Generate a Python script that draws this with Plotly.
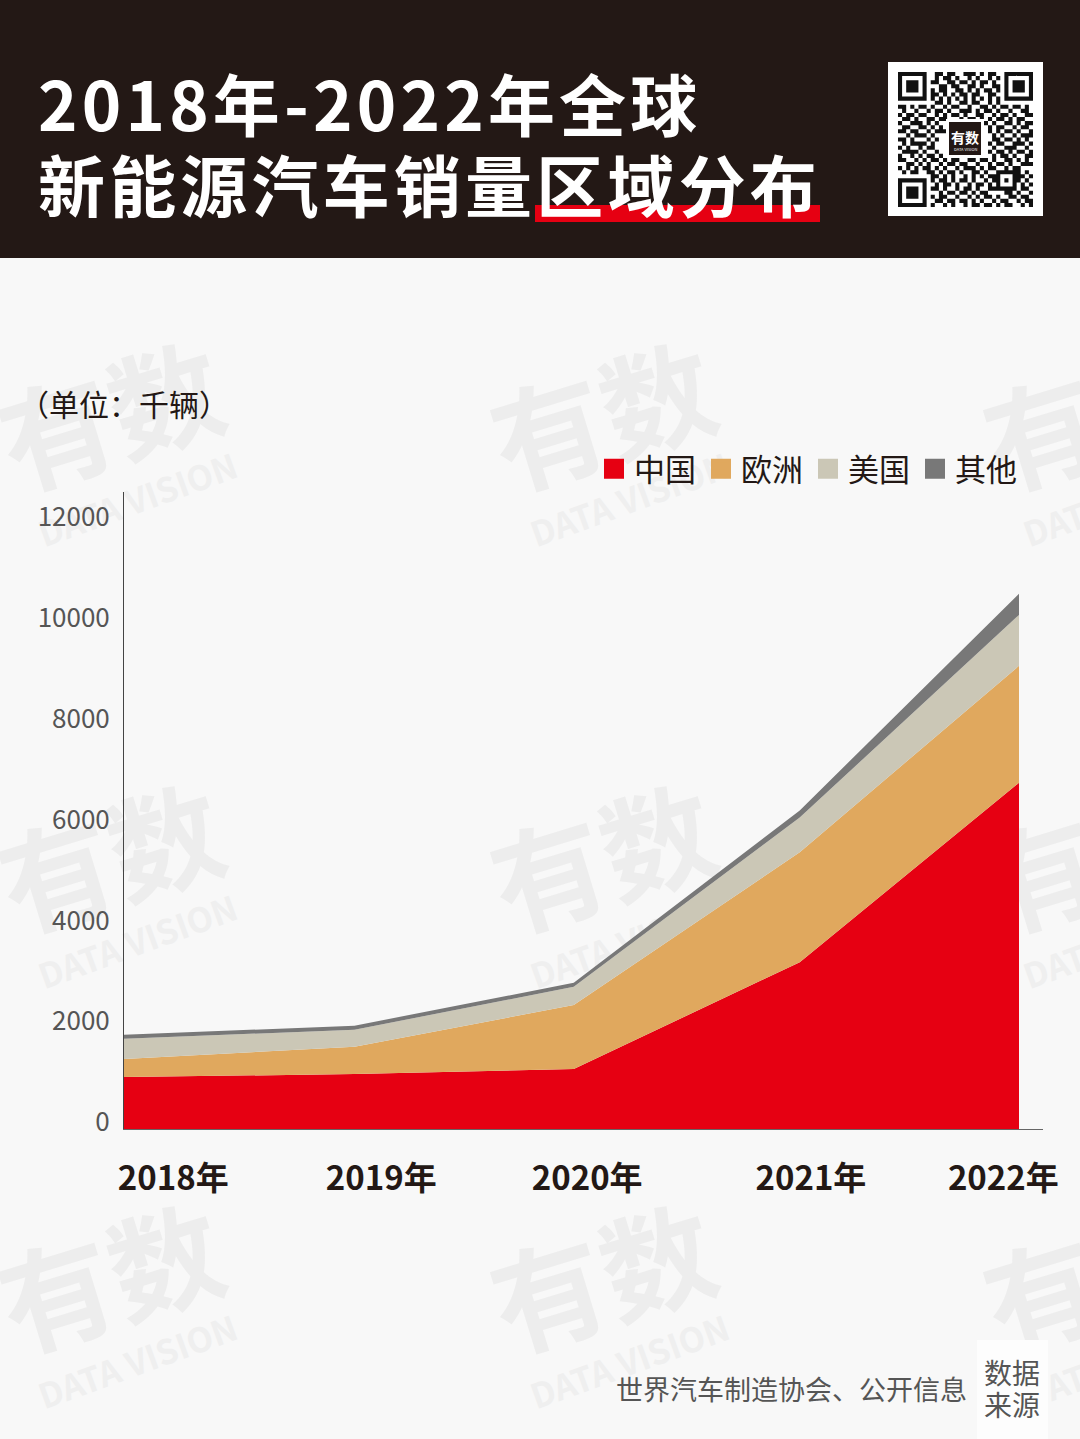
import plotly.graph_objects as go

# Data (thousand vehicles)
years = ['2018年', '2019年', '2020年', '2021年', '2022年']
x_vals = [2018, 2019.03, 2020.01, 2021.02, 2022]
x_tick_vals = [2018.22, 2019.15, 2020.07, 2021.07, 2021.93]
china = [1030, 1090, 1190, 3310, 6870]
europe = [360, 540, 1270, 2180, 2320]
usa = [400, 340, 360, 690, 1010]
other = [80, 80, 80, 140, 420]
y_ticks = [0, 2000, 4000, 6000, 8000, 10000, 12000]

series = [('中国', china, '#E60012'), ('欧洲', europe, '#E0A85E'),
          ('美国', usa, '#CBC7B6'), ('其他', other, '#787878')]

# QR code, one string per module row
qr_rows = [
    '1111111' + '0011011001110101100' + '1111111',
    '1000001' + '0010110100101001010' + '1000001',
    '1011101' + '0110011011010110100' + '1011101',
    '1011101' + '0001101100110100110' + '1011101',
    '1011101' + '0101100110101011010' + '1011101',
    '1000001' + '0110101011011001100' + '1000001',
    '1111111' + '0101010101010101010' + '1111111',
    '000000000110100110110010100000000',
    '110101101001011001001101011011010',
    '010010010110100111010110100100110',
    '101101100101011010011001011010011',
    '011010011011000101101010110101100',
    '100111010100110110000101001101011',
    '011001101010101001111010110010110',
    '110110010111000000000010101101001',
    '001011101000000000000001010010111',
    '110100010100000000000001101101010',
    '010111101000000000000010110011101',
    '101001011000000000000001001110010',
    '011110100100000000000010110101101',
    '100101011010000000000001011010011',
    '110010101101011001101101001101010',
    '001101010010110110010010110100111',
    '101010110101001011101011001011000',
    '010110011010110100110100' + '11111' + '1010',
    '000000001101010010101011' + '10001' + '1101',
    '1111111' + '0' + '1011010110100101' + '10101' + '1010',
    '1000001' + '0' + '0101101001011010' + '10001' + '0101',
    '1011101' + '0' + '1101001011010011' + '11111' + '0110',
    '1011101' + '0' + '0010110110101100' + '00110' + '1001',
    '1011101' + '0' + '1011001001010110' + '10011' + '0110',
    '1000001' + '0' + '0110110110101001' + '01100' + '1011',
    '1111111' + '0' + '1001010010110110' + '10110' + '0101',
]

W, H = 1080, 1439
FONT = 'Noto Sans CJK SC'
HAIR = '\u200a'


def fx(px):
    return px / W


def fy(py):
    return 1 - py / H


def spaced(text):
    return HAIR.join(text)


def rect(x0, y0, x1, y1, color):
    return dict(type='rect', xref='paper', yref='paper', layer='below',
                x0=fx(x0), x1=fx(x1), y0=fy(y1), y1=fy(y0),
                fillcolor=color, line_width=0)


def label_shape(cx, cy, text, size, color, angle, weight='bold'):
    return dict(type='rect', xref='paper', yref='paper', layer='below',
                x0=fx(cx - 1), x1=fx(cx + 1), y0=fy(cy + 1), y1=fy(cy - 1),
                fillcolor='rgba(0,0,0,0)', line_width=0,
                label=dict(text=text, textangle=angle, textposition='middle center',
                           font=dict(family=FONT, size=size, color=color, weight=weight)))


def text(px, py, s, size, color='#231815', anchor='center', bold=False):
    if bold:
        weight = 'bold'
    else:
        weight = 'normal'
    return dict(xref='paper', yref='paper', x=fx(px), y=fy(py), text=s,
                showarrow=False, xanchor=anchor, yanchor='middle',
                font=dict(family=FONT, size=size, color=color, weight=weight))


shapes = [rect(0, 0, W, 258, '#231815')]

# watermarks, hidden by the areas because they sit in the layer below
for row_y in [428, 870, 1290]:
    for col_x in [115, 607, 1100]:
        shapes.append(label_shape(col_x, row_y, '有数', 113, '#EDEDED', -17))
        shapes.append(label_shape(col_x + 24, row_y + 75, 'DATA VISION', 34, '#EFEFEF', -20))

shapes.append(rect(535, 205, 820, 222, '#E60012'))
shapes.append(rect(888, 62, 1043, 216, '#FFFFFF'))

# QR modules as one path
mod = 135 / 33
qr_path = ''
for r, row in enumerate(qr_rows):
    for c, v in enumerate(row):
        if v == '1':
            x0, x1 = fx(898 + c * mod), fx(898 + (c + 1) * mod)
            y0, y1 = fy(72 + r * mod), fy(72 + (r + 1) * mod)
            qr_path += f'M{x0:.5f},{y0:.5f}L{x1:.5f},{y0:.5f}L{x1:.5f},{y1:.5f}L{x0:.5f},{y1:.5f}Z'
shapes.append(dict(type='path', xref='paper', yref='paper', layer='below', path=qr_path,
                   fillcolor='#111111', line_width=0))
shapes.append(rect(946, 119, 984, 158, '#FFFFFF'))
shapes.append(rect(949, 122, 981, 155, '#231815'))
shapes.append(rect(977, 1340, 1048, 1439, '#FDFDFD'))

annotations = [
    text(36, 102, spaced('2018年-2022年全球'), 67, '#FFFFFF', 'left', True),
    text(36, 182, spaced('新能源汽车销量区域分布'), 67, '#FFFFFF', 'left', True),
    text(965, 137, '有数', 14, '#FFFFFF', bold=True),
    text(965, 149, 'DATA VISION', 4, '#FFFFFF'),
    text(124, 403, '（单位：千辆）', 30),
    text(969, 1388, '世界汽车制造协会、公开信息', 27, '#555555', 'right'),
    text(1012, 1372, '数据', 28, '#555555'),
    text(1012, 1404, '来源', 28, '#555555'),
]

fig = go.Figure()

for name, values, color in series:
    fig.add_trace(go.Scatter(
        x=x_vals,
        y=values,
        mode='none',
        stackgroup='one',
        fillcolor=color,
        name=name,
        showlegend=False
    ))

# legend entries only, so the swatches come out as small squares
for name, values, color in series:
    fig.add_trace(go.Scatter(
        x=[None],
        y=[None],
        mode='markers',
        name=name,
        marker=dict(symbol='square', size=16, color=color, line=dict(color=color, width=4))
    ))

fig.update_layout(
    width=W,
    height=H,
    margin=dict(l=0, r=0, t=0, b=0, autoexpand=False),
    autosize=False,
    paper_bgcolor='#F8F8F8',
    plot_bgcolor='rgba(0,0,0,0)',
    font=dict(family=FONT),
    hovermode=False,
    shapes=shapes,
    annotations=annotations,
    legend=dict(
        orientation='h',
        traceorder='normal',
        x=fx(594),
        y=fy(469),
        xanchor='left',
        yanchor='middle',
        entrywidth=62,
        entrywidthmode='pixels',
        font=dict(family=FONT, size=31, color='#231815'),
        bgcolor='rgba(0,0,0,0)'
    ),
    xaxis=dict(
        domain=[fx(124), fx(1043)],
        range=[2018, 2018 + 919 / 223.75],
        tickmode='array',
        tickvals=x_tick_vals,
        ticktext=years,
        showgrid=False,
        zeroline=False,
        showline=True,
        linecolor='#666666',
        linewidth=1,
        ticks='',
        ticklabelstandoff=20,
        tickfont=dict(family=FONT, size=33, color='#231815', weight='bold')
    ),
    yaxis=dict(
        domain=[fy(1129), fy(492)],
        range=[0, 637 * 2000 / 100.8],
        tickmode='array',
        tickvals=y_ticks,
        ticktext=[str(v) for v in y_ticks],
        showgrid=False,
        zeroline=False,
        showline=True,
        linecolor='#444444',
        linewidth=1,
        ticks='',
        ticklabelstandoff=8,
        ticklabelshift=-7,
        tickfont=dict(family=FONT, size=26, color='#555555')
    )
)

fig.write_html('out.html', config={'displayModeBar': False},
               post_script="document.body.style.margin='0';document.body.style.overflow='hidden';")
